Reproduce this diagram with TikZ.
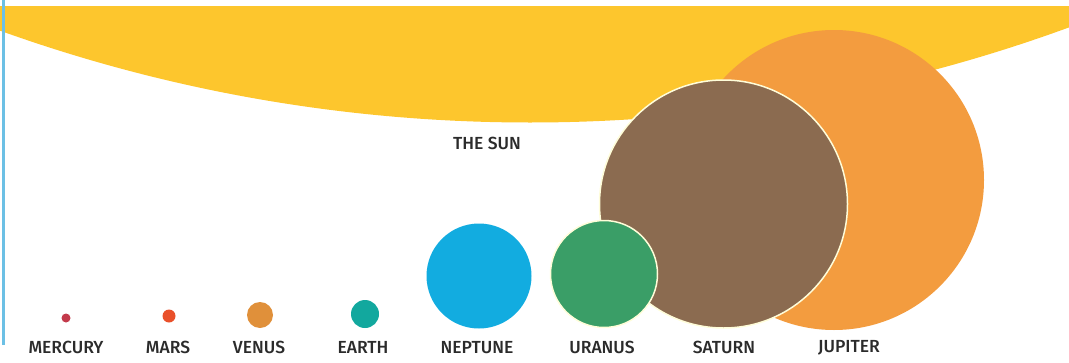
\documentclass[tikz,border=0pt]{standalone}
\usepackage{fontspec}
\setmainfont{Fira Sans}
\newfontfamily\labelfont{Fira Sans Medium}
\definecolor{sunyellow}{HTML}{FDC62D}
\definecolor{edgeblue}{HTML}{6CC0E5}
\definecolor{labelgray}{HTML}{2B2B2B}
\definecolor{jupitercol}{HTML}{F39C3F}
\definecolor{saturncol}{HTML}{8B6B50}
\definecolor{uranuscol}{HTML}{3A9E67}
\definecolor{neptunecol}{HTML}{12ACE0}
\definecolor{earthcol}{HTML}{12A89E}
\definecolor{venuscol}{HTML}{E0903A}
\definecolor{marscol}{HTML}{E9502A}
\definecolor{mercurycol}{HTML}{C33A4B}

\begin{document}
\begin{tikzpicture}[x=1pt, y=-1pt,
    planet/.style={circle, inner sep=0pt, draw=none},
    rim/.style={draw=white!85!yellow, line width=1.5pt},
    planetname/.style={inner sep=0pt, text=labelgray, font=\labelfont\fontsize{17.5}{17.5}\selectfont}]
        \useasboundingbox (0,0) rectangle (1069,362);

        % slunce
        \begin{scope}
            \clip (0,6) rectangle (1069,362);
            \fill[sunyellow] (530,-1445.5) circle (1568);
        \end{scope}
        \draw[edgeblue, line width=3pt] (3.5,0) coordinate (edgetop) -- (3.5,345) coordinate (edgebottom);

        % planety
        \node[planet, fill=jupitercol, minimum size=300pt] (jupiter) at (834,180) {};
        \node[planet, fill=saturncol, rim, minimum size=248pt] (saturn) at (723.5,204) {};
        \node[planet, fill=uranuscol, rim, minimum size=107pt] (uranus) at (604,274) {};
        \node[planet, fill=neptunecol, minimum size=105pt] (neptune) at (479,276) {};
        \node[planet, fill=earthcol, minimum size=28pt] (earth) at (365,314) {};
        \node[planet, fill=venuscol, minimum size=26pt] (venus) at (260,315) {};
        \node[planet, fill=marscol, minimum size=13pt] (mars) at (169,316) {};
        \node[planet, fill=mercurycol, minimum size=9pt] (mercury) at (66,318) {};

        % popisky
        \node[planetname] (sunlabel) at (487,143) {THE SUN};
        \node[planetname] (mercurylabel) at (66,347.5) {MERCURY};
        \node[planetname] (marslabel) at (168,347.5) {MARS};
        \node[planetname] (venuslabel) at (259,347.5) {VENUS};
        \node[planetname] (earthlabel) at (363,347.5) {EARTH};
        \node[planetname] (neptunelabel) at (477,347.5) {NEPTUNE};
        \node[planetname] (uranuslabel) at (602,347.5) {URANUS};
        \node[planetname] (saturnlabel) at (724,347.5) {SATURN};
        \node[planetname] (jupiterlabel) at (849,347.5) {JUPITER};
    \end{tikzpicture}
\end{document}
